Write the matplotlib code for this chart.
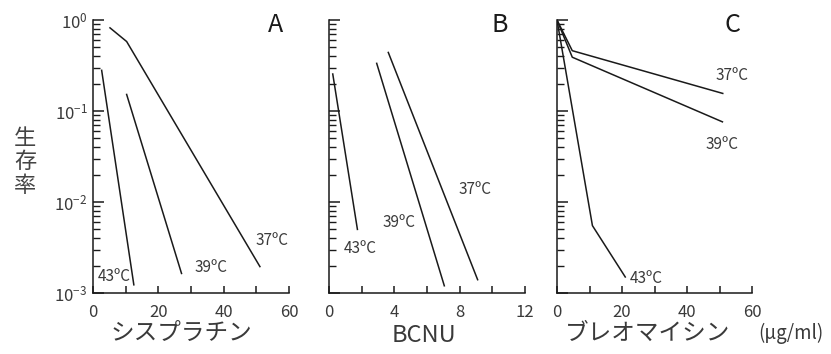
import math

import matplotlib
matplotlib.use("Agg")
import matplotlib.pyplot as plt
from matplotlib.ticker import FixedLocator, LogLocator, FuncFormatter, NullFormatter

plt.rcParams["font.family"] = ["Noto Sans CJK JP", "DejaVu Sans"]
plt.rcParams["axes.unicode_minus"] = False
plt.rcParams["mathtext.default"] = "regular"

# Panel A: cisplatin
a_37_x = [5.2, 10.3, 51.1]
a_37_y = [0.82, 0.58, 0.00195]
a_39_x = [10.3, 27.1]
a_39_y = [0.152, 0.00164]
a_43_x = [2.65, 12.5]
a_43_y = [0.28, 0.00123]

# Panel B: BCNU
b_37_x = [3.63, 9.1]
b_37_y = [0.44, 0.0014]
b_39_x = [2.92, 7.06]
b_39_y = [0.334, 0.0012]
b_43_x = [0.23, 1.74]
b_43_y = [0.255, 0.005]

# Panel C: bleomycin
c_37_x = [0, 4.7, 51.0]
c_37_y = [1.0, 0.46, 0.156]
c_39_x = [0, 4.7, 50.9]
c_39_y = [1.0, 0.39, 0.076]
c_43_x = [0, 10.9, 21.0]
c_43_y = [1.0, 0.0055, 0.0015]

temps = ["37ºC", "39ºC", "43ºC"]

W, H = 831, 354
fig = plt.figure(figsize=(W / 100, H / 100), dpi=100)

panels = [
    # left px, width px, xmax, major ticks, minor ticks, letter, letter x px
    (93, 196, 60, [0, 20, 40, 60], [10, 30, 50], "A", 276),
    (329, 196, 12, [0, 4, 8, 12], [2, 6, 10], "B", 500),
    (557, 195, 60, [0, 20, 40, 60], [10, 30, 50], "C", 732),
]
series = [
    [(a_37_x, a_37_y), (a_39_x, a_39_y), (a_43_x, a_43_y)],
    [(b_37_x, b_37_y), (b_39_x, b_39_y), (b_43_x, b_43_y)],
    [(c_37_x, c_37_y), (c_39_x, c_39_y), (c_43_x, c_43_y)],
]
label_pos = [
    [(54.8, 0.0038), (36.0, 0.0019), (6.4, 0.0015)],
    [(8.94, 0.0138), (4.3, 0.006), (1.9, 0.0031)],
    [(54.0, 0.243), (50.7, 0.0425), (27.4, 0.00145)],
]

ink = "#1a1a1a"
soft = "#3a3a3a"

for i, (left, width, xmax, major, minor, letter, letter_x) in enumerate(panels):
    ax = fig.add_axes([left / W, 61 / H, width / W, 273 / H])
    for (xs, ys), t, (lx, ly) in zip(series[i], temps, label_pos[i]):
        ax.plot(xs, ys, color=ink, lw=1.1)
        ax.text(lx, ly, t, fontsize=11, ha="center", va="center", color=soft)
    ax.set_yscale("log")
    ax.set_ylim(1e-3, 1)
    ax.set_xlim(0, xmax)
    for s in ["top", "right"]:
        ax.spines[s].set_visible(False)
    for s in ["left", "bottom"]:
        ax.spines[s].set_linewidth(1.1)
        ax.spines[s].set_color(ink)
    ax.xaxis.set_major_locator(FixedLocator(major))
    ax.xaxis.set_minor_locator(FixedLocator(minor))
    ax.yaxis.set_major_locator(FixedLocator([1e-3, 1e-2, 1e-1, 1]))
    ax.yaxis.set_minor_locator(LogLocator(base=10, subs=range(2, 10)))
    ax.yaxis.set_minor_formatter(NullFormatter())
    ax.tick_params(axis="x", which="both", direction="in", length=5, width=1.1,
                   labelsize=12, pad=8, colors=ink, labelcolor=soft)
    ax.tick_params(axis="y", which="major", direction="in", length=8, width=1.1,
                   labelsize=12, pad=4, colors=ink, labelcolor=soft)
    ax.tick_params(axis="y", which="minor", direction="in", length=5, width=1.0,
                   colors=ink)
    if i == 0:
        ax.yaxis.set_major_formatter(FuncFormatter(
            lambda v, p: "$10^{%d}$" % round(math.log10(v))))
    else:
        ax.yaxis.set_major_formatter(NullFormatter())
    ax.patch.set_alpha(0)
    fig.text(letter_x / W, 1 - 25 / H, letter, fontsize=18, ha="center",
             va="center", color=ink)

# axis titles
fig.text(181 / W, 1 - 333 / H, "シスプラチン", fontsize=17, ha="center",
         va="center", color=soft)
fig.text(424 / W, 1 - 336 / H, "BCNU", fontsize=17, ha="center",
         va="center", color=soft)
fig.text(648 / W, 1 - 333 / H, "ブレオマイシン", fontsize=17, ha="center",
         va="center", color=soft)
fig.text(791 / W, 1 - 333 / H, "(μg/ml)", fontsize=13.5, ha="center",
         va="center", color=soft)

fig.text(25 / W, 1 - 162 / H, "生\n存\n率", fontsize=16, ha="center", va="center",
         linespacing=1.0, color="#444444")

fig.savefig("out.png", dpi=100)
